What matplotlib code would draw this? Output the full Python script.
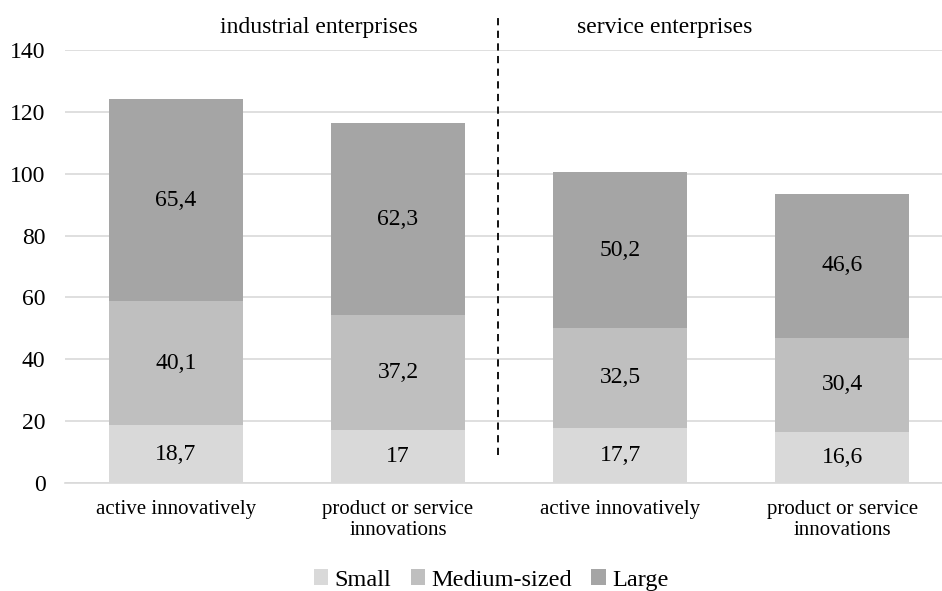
import matplotlib
matplotlib.use("Agg")
import matplotlib.pyplot as plt
import numpy as np

categories = ["active innovatively", "product or service\ninnovations",
              "active innovatively", "product or service\ninnovations"]
small = [18.7, 17, 17.7, 16.6]
medium = [40.1, 37.2, 32.5, 30.4]
large = [65.4, 62.3, 50.2, 46.6]
series_names = ["Small", "Medium-sized", "Large"]
colors = ["#d9d9d9", "#bfbfbf", "#a5a5a5"]
yticks = [0, 20, 40, 60, 80, 100, 120, 140]

plt.rcParams['font.family'] = ['Liberation Serif', 'DejaVu Serif']

fig = plt.figure(figsize=(9.42, 5.91), dpi=100)
ax = fig.add_axes([65/942, (591-483)/591, 877/942, 433/591])

x = np.arange(len(categories))
w = 0.6
bottom = np.zeros(len(categories))
for vals, name, c in zip([small, medium, large], series_names, colors):
    bars = ax.bar(x, vals, w, bottom=bottom, color=c, label=name, zorder=3)
    for xi, b, v in zip(x, bottom, vals):
        ax.text(xi, b + v/2, f"{v:g}".replace(".", ","), ha="center", va="center",
                fontsize=17, color="black", zorder=4)
    bottom += np.array(vals)

ax.set_xlim(-0.5, 3.45)
ax.set_ylim(0, 140)
ax.set_yticks(yticks)
ax.set_xticks(x)
ax.set_xticklabels(categories, fontsize=15, linespacing=1.15)
ax.tick_params(axis="both", length=0)
ax.tick_params(axis="y", labelsize=17, pad=14)
ax.tick_params(axis="x", pad=12)
ax.yaxis.grid(True, color="#d9d9d9", linewidth=1.2, zorder=0)
ax.set_axisbelow(True)
for s in ["top", "right", "left"]:
    ax.spines[s].set_visible(False)
ax.spines["bottom"].set_color("#d9d9d9")
ax.spines["bottom"].set_linewidth(1.2)

# divider line
ax.plot([1.45, 1.45], [9.0, 151.6], color="black", linestyle=(0, (4, 3)),
        linewidth=1.3, clip_on=False, zorder=5)
ax.text(0.645, 147.3, "industrial enterprises", ha="center", va="center", fontsize=17)
ax.text(2.2, 147.3, "service enterprises", ha="center", va="center", fontsize=17)

leg = fig.legend(loc="center", bbox_to_anchor=(491/942, 1 - 580/591), ncol=3,
                 frameon=False, fontsize=17.5, handlelength=0.6, handleheight=0.6,
                 handletextpad=0.25, columnspacing=0.8)

fig.savefig("out.png", dpi=100)
